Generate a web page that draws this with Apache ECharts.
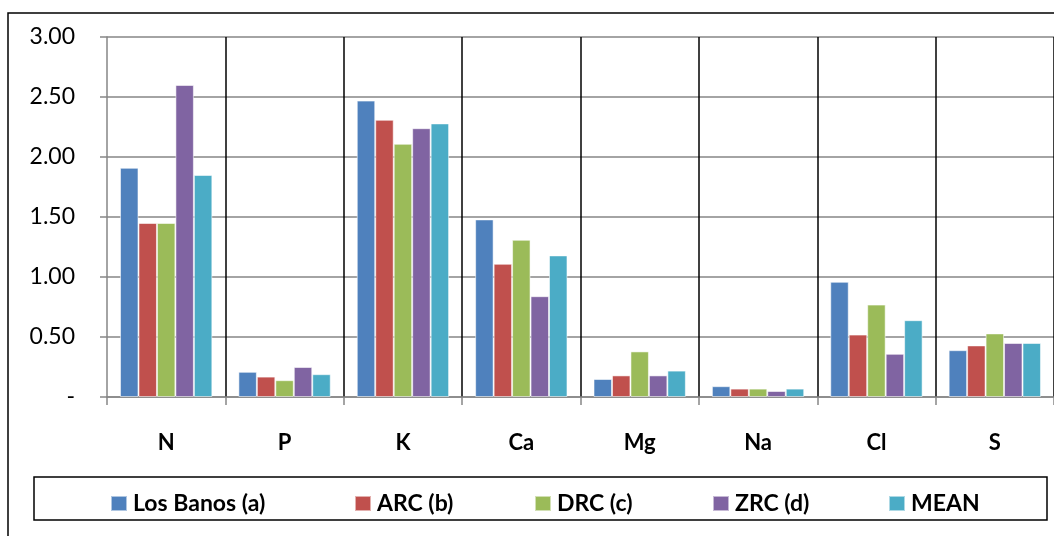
<!DOCTYPE html>
<html>
<head>
<meta charset="utf-8">
<script src="https://cdn.jsdelivr.net/npm/echarts@6/dist/echarts.min.js"></script>
<style>
html,body{margin:0;padding:0;background:#fff;}
#chart{width:1054px;height:536px;}
</style>
</head>
<body>
<div id="chart"></div>
<script>
const categories = ['N', 'P', 'K', 'Ca', 'Mg', 'Na', 'Cl', 'S'];
const losBanos = [1.91, 0.21, 2.47, 1.48, 0.15, 0.09, 0.96, 0.39];
const arc      = [1.45, 0.17, 2.31, 1.11, 0.18, 0.07, 0.52, 0.43];
const drc      = [1.45, 0.14, 2.11, 1.31, 0.38, 0.07, 0.77, 0.53];
const zrc      = [2.60, 0.25, 2.24, 0.84, 0.18, 0.05, 0.36, 0.45];
const mean     = [1.85, 0.19, 2.28, 1.18, 0.22, 0.07, 0.64, 0.45];
const seriesNames = ['Los Banos (a)', 'ARC (b)', 'DRC (c)', 'ZRC (d)', 'MEAN'];
const seriesData = [losBanos, arc, drc, zrc, mean];
const colors = ['#4F81BD', '#C0504D', '#9BBB59', '#8064A2', '#4BACC6'];

const chart = echarts.init(document.getElementById('chart'), null, {renderer: 'canvas'});
const FONT = 'Lato, "Open Sans", sans-serif';
const legendLefts = [110, 354, 534, 712, 888];

chart.setOption({
  animation: false,
  color: colors,
  graphic: [
    {type: 'rect', shape: {x: 8, y: 13, width: 1200, height: 700},
     style: {fill: 'none', stroke: '#000', lineWidth: 1.5}, silent: true, z: -1},
    {type: 'rect', shape: {x: 34, y: 477, width: 1013, height: 43},
     style: {fill: 'none', stroke: '#000', lineWidth: 1.5}, silent: true, z: -1}
  ],
  grid: {left: 107, right: 0, top: 37, bottom: 139, containLabel: false},
  legend: seriesNames.map((n, i) => ({
    data: [n],
    left: legendLefts[i], top: 492, padding: 0,
    itemWidth: 16, itemHeight: 15,
    icon: 'rect',
    textStyle: {fontFamily: FONT, fontSize: 23, fontWeight: 'bold', color: '#000', padding: [0, 0, 0, 1]}
  })),
  xAxis: {
    type: 'category',
    data: categories,
    boundaryGap: true,
    axisLine: {show: true, lineStyle: {color: '#868686', width: 1.5}},
    axisTick: {show: true, length: 8, lineStyle: {color: '#868686', width: 1.5}},
    splitLine: {show: true, interval: (idx) => idx !== 0, lineStyle: {color: '#000', width: 1.5}},
    axisLabel: {fontFamily: FONT, fontSize: 22, fontWeight: 'bold', color: '#000', margin: 35, interval: 0}
  },
  yAxis: {
    type: 'value',
    min: 0, max: 3, interval: 0.5,
    axisLine: {show: true, lineStyle: {color: '#868686', width: 1.5}},
    axisTick: {show: true, length: 7, lineStyle: {color: '#868686', width: 1.5}},
    splitLine: {show: true, lineStyle: {color: '#868686', width: 1.5}},
    axisLabel: {
      fontFamily: FONT, fontSize: 23, color: '#000', margin: 32,
      formatter: v => v === 0 ? '-' : v.toFixed(2)
    }
  },
  series: seriesData.map((d, i) => ({
    name: seriesNames[i],
    type: 'bar',
    data: d,
    barGap: '0%',
    barCategoryGap: '22%',
    itemStyle: {color: colors[i], borderColor: 'rgba(255,255,255,0.55)', borderWidth: 1}
  }))
});
</script>
</body>
</html>
